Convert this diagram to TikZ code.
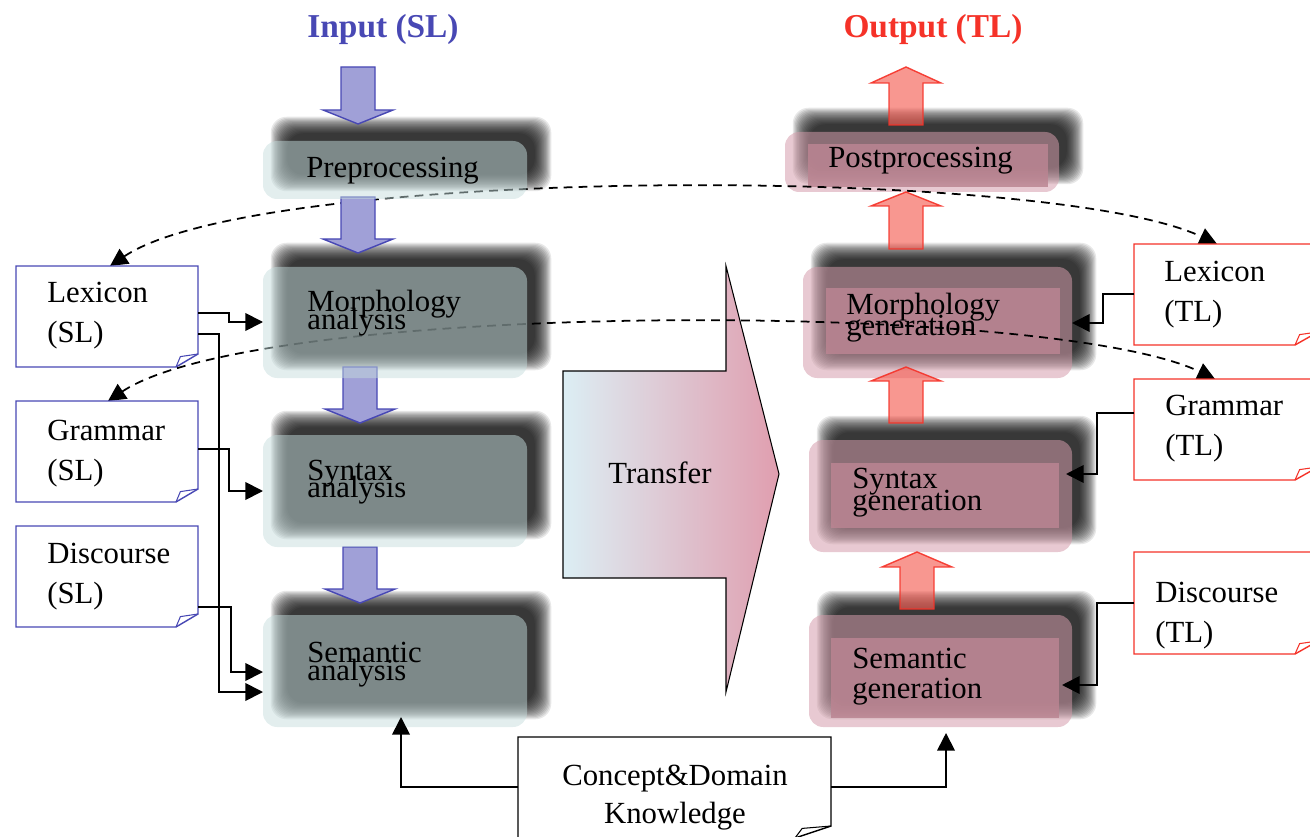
\documentclass[tikz,border=0pt]{standalone}
\usepackage{fontspec}
\setmainfont{Liberation Serif}
\usetikzlibrary{arrows.meta,calc}

\definecolor{slblue}{RGB}{72,72,180}
\definecolor{slfill}{RGB}{160,160,215}
\definecolor{tlred}{RGB}{245,50,40}
\definecolor{tlfill}{RGB}{245,95,85}
\definecolor{anabox}{RGB}{197,221,221}
\definecolor{genbox}{RGB}{212,156,171}
\definecolor{geninner}{RGB}{187,133,146}
\definecolor{xferleft}{RGB}{220,238,244}
\definecolor{xferright}{RGB}{224,158,175}

% soft (blurred) drop shadow behind a box node, offset up and to the right
\newcommand\softshadow[1]{%
  \foreach \k in {0,...,15}{%
    \pgfmathsetmacro\ins{(\k-7.5)*1.1}%
    \pgfmathsetmacro\xa{16+\ins}\pgfmathsetmacro\ya{-16-\ins}%
    \pgfmathsetmacro\xb{16-\ins}\pgfmathsetmacro\yb{-16+\ins}%
    \fill[black, opacity=0.09, rounded corners=9pt]
      ($(#1.south west)+(\xa,\ya)$) rectangle ($(#1.north east)+(\xb,\yb)$);
  }}

% document outline with a curled bottom-right corner
\newcommand\docframe[4]{%
  \filldraw[fill=white, draw=#2, line width=0.8pt]
    (#1.north west) -- (#1.north east) -- ($(#1.south east)+(0,-#4)$)
    -- ($(#1.south east)+(-#3,0)$) -- (#1.south west) -- cycle;
  \draw[#2, line width=0.6pt]
    ($(#1.south east)+(-#3,0)$) -- ($(#1.south east)+(-0.8*#3,-0.8*#4)$)
    -- ($(#1.south east)+(0,-#4)$);}

% block arrow: style, centre x, shaft end y, head base y, tip y
\newcommand\blockarrow[5]{%
  \draw[#1] (#2-17,#3) -- (#2+17,#3) -- (#2+17,#4) -- (#2+35,#4) -- (#2,#5)
    -- (#2-35,#4) -- (#2-17,#4) -- cycle;}

\tikzset{
  px/.style 2 args={minimum width=#1*0.02cm, minimum height=#2*0.02cm},
  frame/.style={inner sep=0pt, outer sep=0pt, draw=none},
  anabx/.style={frame, fill=anabox, fill opacity=0.49, rounded corners=8pt},
  genbx/.style={frame, fill=genbox, fill opacity=0.54, rounded corners=8pt},
  geninbx/.style={frame, fill=geninner, fill opacity=0.85},
  lbl/.style={font=\fontsize{17.5}{21}\selectfont, inner sep=0pt, anchor=base west},
  clbl/.style={lbl, anchor=base},
  ttl/.style={font=\fontsize{19}{23}\selectfont\bfseries, inner sep=0pt, anchor=base},
  bluearrow/.style={fill=slfill, draw=slblue, line width=0.8pt},
  redarrow/.style={fill=tlfill, draw=tlred, fill opacity=0.65, draw opacity=0.9, line width=0.8pt},
  conn/.style={draw=black, line width=1pt, -{Triangle[length=10pt,width=10pt]}},
  dashline/.style={draw=black, line width=1pt, dash pattern=on 5pt off 3.5pt,
    {Triangle[length=10pt,width=10pt]}-{Triangle[length=10pt,width=10pt]}},
}

\begin{document}
\begin{tikzpicture}[x=0.02cm, y=-0.02cm]
\useasboundingbox (0,0) rectangle (1310,837);

% ---------- generation side (target language) ----------
\path (922,162)   node[frame, px={274}{60}]  (post)  {};
\path (937.5,322.5) node[frame, px={269}{111}] (morphg) {};
\path (940.5,496) node[frame, px={263}{112}] (syng)  {};
\path (940.5,671) node[frame, px={263}{112}] (semg)  {};
\softshadow{post}\softshadow{morphg}\softshadow{syng}\softshadow{semg}
\fill[genbx] (post.south west) rectangle (post.north east);
\fill[genbx] (morphg.south west) rectangle (morphg.north east);
\fill[genbx] (syng.south west) rectangle (syng.north east);
\fill[genbx] (semg.south west) rectangle (semg.north east);
\node[geninbx, px={240}{43}] (postin)   at (928,165.5) {};
\node[geninbx, px={234}{66}] (morphgin) at (943,321) {};
\node[geninbx, px={228}{65}] (syngin)   at (945,495.5) {};
\node[geninbx, px={228}{80}] (semgin)   at (945,678) {};

\blockarrow{redarrow}{906}{125}{83}{67}
\blockarrow{redarrow}{906}{249}{206}{192}
\blockarrow{redarrow}{906}{423}{381}{367}
\blockarrow{redarrow}{917}{609}{567}{552}

\node[lbl] (postt)   at (828,168) {Postprocessing};
\node[lbl] (morphgt) at (846,315) {Morphology};
\node[lbl] (morphgu) at (846,336) {generation};
\node[lbl] (syngt)   at (852,488) {Syntax};
\node[lbl] (syngu)   at (852,510) {generation};
\node[lbl] (semgt)   at (852,668) {Semantic};
\node[lbl] (semgu)   at (852,698) {generation};

% ---------- transfer ----------
\draw[left color=xferleft, right color=xferright, line width=0.6pt]
  (563,371) -- (726,371) -- (726,266) -- (779,474) -- (726,692)
  -- (726,578) -- (563,578) -- cycle;
\node[clbl] (xfer) at (660,483) {Transfer};

% ---------- analysis side (source language) ----------
\path (395,170)   node[frame, px={264}{58}]  (prep)   {};
\path (395,322.5) node[frame, px={264}{111}] (morpha) {};
\path (395,491)   node[frame, px={264}{112}] (syna)   {};
\path (395,671)   node[frame, px={264}{112}] (semana) {};
\softshadow{prep}\softshadow{morpha}\softshadow{syna}\softshadow{semana}

% ---------- knowledge sources ----------
\path (107,316.5)  node[frame, px={182}{101}] (lexsl)  {};
\path (107,451.5)  node[frame, px={182}{101}] (gramsl) {};
\path (107,576.5)  node[frame, px={182}{101}] (discsl) {};
\path (1226,294.5) node[frame, px={184}{101}] (lextl)  {};
\path (1226,429.5) node[frame, px={184}{101}] (gramtl) {};
\path (1226,603)   node[frame, px={184}{102}] (disctl) {};
\path (674.5,787.5) node[frame, px={313}{101}] (concept) {};

% lexicon and grammar correspondences between the two languages
\draw[dashline] (110,0 |- lexsl.north) .. controls (260,165) and (1050,165) .. (1217,0 |- lextl.north);
\draw[dashline] (108,0 |- gramsl.north) .. controls (260,300) and (1050,300) .. (1215,0 |- gramtl.north);

\blockarrow{bluearrow}{358}{67}{110}{124}
\blockarrow{bluearrow}{358}{197}{239}{253}
\blockarrow{bluearrow}{360}{367}{409}{423}
\blockarrow{bluearrow}{360}{547}{589}{603}

\fill[anabx] (prep.south west) rectangle (prep.north east);
\fill[anabx] (morpha.south west) rectangle (morpha.north east);
\fill[anabx] (syna.south west) rectangle (syna.north east);
\fill[anabx] (semana.south west) rectangle (semana.north east);

\node[lbl] (prept)   at (306,178) {Preprocessing};
\node[lbl] (morphat) at (307,312) {Morphology};
\node[lbl] (morphau) at (307,330) {analysis};
\node[lbl] (synat)   at (307,480) {Syntax};
\node[lbl] (synau)   at (307,497) {analysis};
\node[lbl] (semanat) at (307,662) {Semantic};
\node[lbl] (semanau) at (307,680) {analysis};

\docframe{lexsl}{slblue}{22}{13}
\docframe{gramsl}{slblue}{22}{13}
\docframe{discsl}{slblue}{22}{13}
\docframe{lextl}{tlred}{23}{13}
\docframe{gramtl}{tlred}{23}{13}
\docframe{disctl}{tlred}{23}{13}
\docframe{concept}{black}{36}{12}

\node[lbl] (lexslt)  at (47,303)  {Lexicon};
\node[lbl] (lexslu)  at (47,343)  {(SL)};
\node[lbl] (gramslt) at (47,440)  {Grammar};
\node[lbl] (gramslu) at (47,480)  {(SL)};
\node[lbl] (discslt) at (47,563)  {Discourse};
\node[lbl] (discslu) at (47,603)  {(SL)};
\node[lbl] (lextlt)  at (1164,282) {Lexicon};
\node[lbl] (lextlu)  at (1164,322) {(TL)};
\node[lbl] (gramtlt) at (1165,415) {Grammar};
\node[lbl] (gramtlu) at (1165,455) {(TL)};
\node[lbl] (disctlt) at (1155,602) {Discourse};
\node[lbl] (disctlu) at (1155,642) {(TL)};
\node[clbl] (conceptt) at (675,785) {Concept\&Domain};
\node[clbl] (conceptu) at (675,823) {Knowledge};

% ---------- connectors ----------
\draw[conn] (lexsl.east |- 0,313)  -| (229,322) -- (morpha.west |- 0,322);
\draw[conn] (lexsl.east |- 0,334)  -| (219,692) -- (semana.west |- 0,692);
\draw[conn] (gramsl.east |- 0,449) -| (229,491) -- (syna.west |- 0,491);
\draw[conn] (discsl.east |- 0,607) -| (231,672) -- (semana.west |- 0,672);

\draw[conn] (lextl.west |- 0,294)  -| (1103,323) -- (morphg.east |- 0,323);
\draw[conn] (gramtl.west |- 0,413) -| (1097,474) -- ($(syng.east |- 0,474)+(-6,0)$);
\draw[conn] (disctl.west |- 0,603) -| (1097,685) -- ($(semg.east |- 0,685)+(-10,0)$);

\draw[conn] (concept.west |- 0,787) -| (401,717);
\draw[conn] (concept.east |- 0,787) -| (946,733);

% ---------- titles ----------
\node[ttl, text=slblue] (intitle)  at (383,38) {Input (SL)};
\node[ttl, text=tlred]  (outtitle) at (933,38) {Output (TL)};
\end{tikzpicture}
\end{document}
